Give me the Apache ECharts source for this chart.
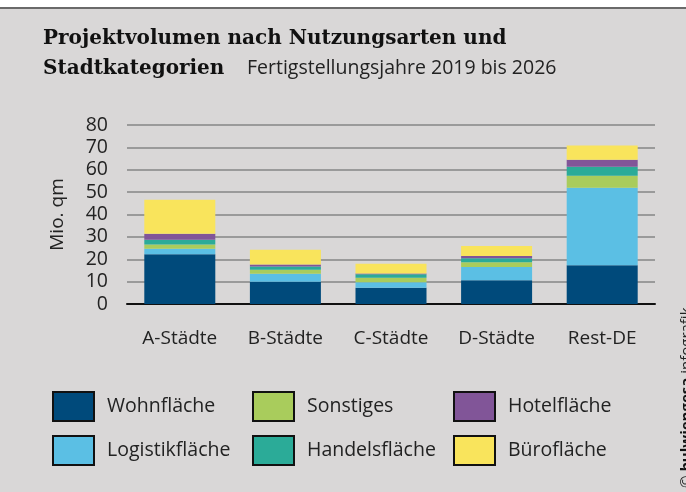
<!DOCTYPE html>
<html lang="de">
<head>
    <meta charset="UTF-8">
    <title>Projektvolumen</title>
    <script src="https://cdn.jsdelivr.net/npm/echarts@6/dist/echarts.min.js"></script>
    <style>
        html, body { margin: 0; padding: 0; background: #fff; }
    </style>
</head>
<body>
<div id="main" style="width:686px;height:492px;"></div>
<script>
    // Kategorien und Werte (Mio. qm)
    var categories = ['A-Städte', 'B-Städte', 'C-Städte', 'D-Städte', 'Rest-DE'];
    var wohnflaeche = [22.2, 10.0, 7.3, 10.6, 17.3];
    var logistikflaeche = [2.5, 3.5, 2.4, 5.9, 34.6];
    var sonstiges = [1.9, 1.8, 2.0, 2.2, 5.4];
    var handelsflaeche = [2.1, 1.5, 1.6, 1.8, 4.0];
    var hotelflaeche = [2.7, 0.9, 0.3, 0.9, 3.2];
    var bueroflaeche = [15.2, 6.6, 4.4, 4.5, 6.3];
    var yTicks = [0, 10, 20, 30, 40, 50, 60, 70, 80];

    var myChart = echarts.init(document.getElementById('main'));

    var font = '"Open Sans", "Noto Sans", sans-serif';

    function bar(name, data, color) {
        return {
            name: name,
            type: 'bar',
            stack: 'gesamt',
            barWidth: 71,
            data: data,
            itemStyle: {color: color},
            emphasis: {disabled: true}
        };
    }

    function legendCol(left, names) {
        return {
            orient: 'vertical',
            left: left,
            top: 391,
            padding: 0,
            itemWidth: 41,
            itemHeight: 29,
            itemGap: 13,
            icon: 'rect',
            itemStyle: {borderColor: '#111', borderWidth: 2},
            selectedMode: false,
            data: names,
            textStyle: {fontFamily: font, fontSize: 19.5, color: '#222', padding: [0, 0, 0, 8]}
        };
    }

    var option = {
        backgroundColor: '#d9d7d7',
        animation: false,
        graphic: [
            {type: 'rect', left: 0, top: 0, shape: {width: 686, height: 7}, style: {fill: '#ffffff'}},
            {type: 'rect', left: 0, top: 7, shape: {width: 686, height: 2}, style: {fill: '#6a6a6a'}},
            {
                type: 'text', left: 43, top: 24,
                style: {
                    text: 'Projektvolumen nach Nutzungsarten und\nStadtkategorien',
                    font: 'bold 20px "DejaVu Serif", serif',
                    lineHeight: 30,
                    fill: '#111'
                }
            },
            {
                type: 'text', left: 247, top: 58,
                style: {
                    text: 'Fertigstellungsjahre 2019 bis 2026',
                    font: '19.5px "Open Sans", sans-serif',
                    fill: '#222'
                }
            },
            {
                type: 'text', x: 679, y: 488, rotation: Math.PI / 2,
                style: {
                    text: '{a|© }{b|bulwiengesa}{a| infografik}',
                    verticalAlign: 'top',
                    rich: {
                        a: {font: '15px "Open Sans", sans-serif', fill: '#222'},
                        b: {font: 'bold 15px "Open Sans", sans-serif', fill: '#111'}
                    }
                }
            }
        ],
        legend: [
            legendCol(52, ['Wohnfläche', 'Logistikfläche']),
            legendCol(252, ['Sonstiges', 'Handelsfläche']),
            legendCol(453, ['Hotelfläche', 'Bürofläche'])
        ],
        grid: {left: 127, right: 31, top: 125, bottom: 188},
        xAxis: {
            type: 'category',
            data: categories,
            axisLine: {lineStyle: {color: '#111', width: 2}},
            axisTick: {show: false},
            axisLabel: {fontFamily: font, fontSize: 19, color: '#222', margin: 25}
        },
        yAxis: {
            type: 'value',
            min: yTicks[0],
            max: yTicks[yTicks.length - 1],
            interval: 10,
            name: 'Mio. qm',
            nameLocation: 'middle',
            nameGap: 60,
            nameTextStyle: {fontFamily: font, fontSize: 19, color: '#222'},
            axisLine: {show: false},
            axisTick: {show: false},
            axisLabel: {fontFamily: font, fontSize: 19.5, color: '#222', margin: 19},
            splitLine: {lineStyle: {color: '#9a9a9a', width: 2}}
        },
        series: [
            bar('Wohnfläche', wohnflaeche, '#004a7b'),
            bar('Logistikfläche', logistikflaeche, '#5bbfe4'),
            bar('Sonstiges', sonstiges, '#a9cc5c'),
            bar('Handelsfläche', handelsflaeche, '#2bab98'),
            bar('Hotelfläche', hotelflaeche, '#815598'),
            bar('Bürofläche', bueroflaeche, '#f9e45c')
        ]
    };

    myChart.setOption(option);
</script>
</body>
</html>
